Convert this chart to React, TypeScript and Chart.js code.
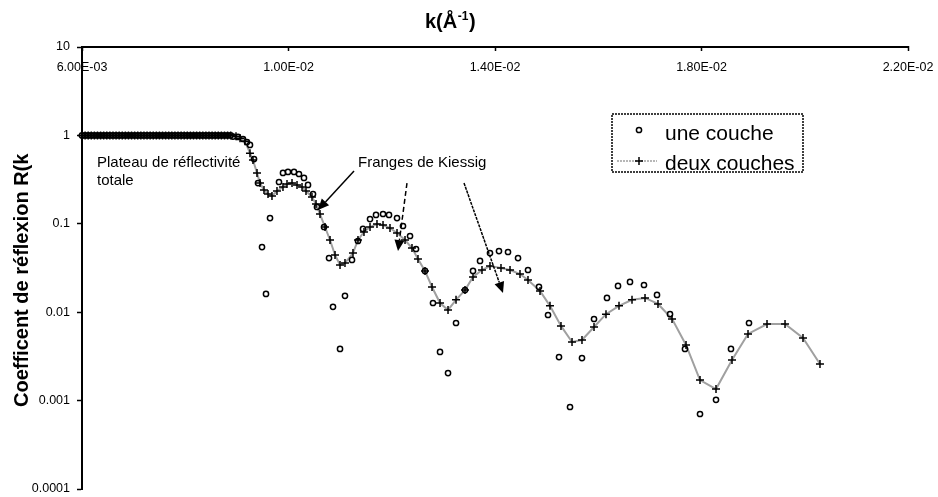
import React, { useEffect, useRef } from 'react';
import { Chart, registerables } from 'chart.js';

Chart.register(...registerables);

const FONT = "'Liberation Sans', Arial, sans-serif";

// Axis ticks
const xTickValues = [0.006, 0.01, 0.014, 0.018, 0.022];
const xTickLabels = ['6.00E-03', '1.00E-02', '1.40E-02', '1.80E-02', '2.20E-02'];
const yTickValues = [0.0001, 0.001, 0.01, 0.1, 1, 10];
const yTickLabels = ['0.0001', '0.001', '0.01', '0.1', '1', '10'];

const xTitleMain = 'k(Å';
const xTitleSup = '-1';
const xTitleEnd = ')';
const yTitle = 'Coefficent de réflexion R(k';

const seriesNames = ['une couche', 'deux couches'];

// Plateau of total reflectivity (both series at R = 1)
const plateauK = [
  0.00600, 0.00606, 0.00612, 0.00618, 0.00624, 0.00630, 0.00636, 0.00642, 0.00648, 0.00654,
  0.00660, 0.00666, 0.00672, 0.00678, 0.00684, 0.00690, 0.00696, 0.00702, 0.00708, 0.00714,
  0.00720, 0.00726, 0.00732, 0.00738, 0.00744, 0.00750, 0.00756, 0.00762, 0.00768, 0.00774,
  0.00780, 0.00786, 0.00792, 0.00798, 0.00804, 0.00810, 0.00816, 0.00822, 0.00828, 0.00834,
  0.00840, 0.00846, 0.00852, 0.00858, 0.00864, 0.00870, 0.00876, 0.00882, 0.00888,
];
const plateauR = 1;

// "une couche" (circles)
const uneK = [
  0.008925, 0.009022, 0.009119, 0.009196, 0.009254, 0.009332, 0.009409, 0.009487, 0.009564, 0.009642,
  0.009816, 0.009893, 0.009990, 0.010107, 0.010203, 0.010300, 0.010378, 0.010475, 0.010552, 0.010688,
  0.010785, 0.010862, 0.010998, 0.011094, 0.011230, 0.011346, 0.011443, 0.011579, 0.011695, 0.011831,
  0.011947, 0.012102, 0.012218, 0.012354, 0.012470, 0.012644, 0.012799, 0.012935, 0.013090, 0.013245,
  0.013419, 0.013574, 0.013710, 0.013903, 0.014077, 0.014252, 0.014446, 0.014639, 0.014852, 0.015027,
  0.015240, 0.015453, 0.015685, 0.015918, 0.016169, 0.016383, 0.016615, 0.016886, 0.017138, 0.017390,
  0.017680, 0.017971, 0.018281, 0.018571, 0.018920,
];
const uneR = [
  0.97, 0.96, 0.91, 0.84, 0.78, 0.54, 0.289, 0.0546, 0.0161, 0.116,
  0.297, 0.376, 0.386, 0.386, 0.366, 0.330, 0.275, 0.217, 0.155, 0.092,
  0.041, 0.0115, 0.00384, 0.0153, 0.039, 0.0639, 0.0874, 0.113, 0.126, 0.129,
  0.126, 0.116, 0.0944, 0.0728, 0.0519, 0.0293, 0.0127, 0.00355, 0.00205, 0.00755,
  0.0178, 0.0293, 0.038, 0.0467, 0.0492, 0.048, 0.041, 0.030, 0.0193, 0.0093,
  0.00311, 0.000847, 0.00303, 0.00838, 0.0145, 0.0198, 0.022, 0.0203, 0.0157, 0.0095,
  0.00384, 0.000705, 0.00102, 0.00384, 0.00755,
];

// "deux couches" (line + crosses)
const deuxK = [
  0.008983, 0.009061, 0.009157, 0.009254, 0.009312, 0.009390, 0.009448, 0.009525, 0.009603, 0.009680,
  0.009777, 0.009893, 0.009971, 0.010068, 0.010165, 0.010262, 0.010339, 0.010455, 0.010533, 0.010610,
  0.010707, 0.010804, 0.010901, 0.010998, 0.011094, 0.011249, 0.011346, 0.011462, 0.011579, 0.011714,
  0.011831, 0.011966, 0.012102, 0.012257, 0.012392, 0.012508, 0.012644, 0.012780, 0.012935, 0.013090,
  0.013245, 0.013419, 0.013574, 0.013748, 0.013903, 0.014116, 0.014291, 0.014484, 0.014639, 0.014872,
  0.015065, 0.015278, 0.015492, 0.015685, 0.015918, 0.016150, 0.016402, 0.016654, 0.016906, 0.017157,
  0.017429, 0.017700, 0.017971, 0.018281, 0.018591, 0.018901, 0.019269, 0.019618, 0.019966, 0.020295,
];
const deuxR = [
  0.98, 0.93, 0.86, 0.63, 0.527, 0.376, 0.289, 0.241, 0.217, 0.206,
  0.235, 0.261, 0.282, 0.289, 0.275, 0.261, 0.235, 0.201, 0.168, 0.129,
  0.092, 0.0656, 0.0444, 0.0342, 0.036, 0.0467, 0.0656, 0.0808, 0.092, 0.0995,
  0.0969, 0.0896, 0.0787, 0.0656, 0.0532, 0.040, 0.0293, 0.0193, 0.0127, 0.0106,
  0.0138, 0.0178, 0.025, 0.030, 0.0333, 0.0316, 0.030, 0.027, 0.0231, 0.0174,
  0.0118, 0.0070, 0.0046, 0.00485, 0.0068, 0.0095, 0.0118, 0.0138, 0.0145, 0.0124,
  0.0084, 0.00426, 0.00171, 0.00135, 0.00288, 0.00567, 0.00735, 0.00735, 0.00511, 0.00259,
];

// Annotations (anchored in data coordinates)
const plateauText = ['Plateau de réflectivité', 'totale'];
const plateauTextK = 0.006291;
const plateauTextR = [0.439, 0.275];
const frangesText = 'Franges de Kiessig';
const frangesTextK = 0.011346;
const frangesTextR = 0.439;
// arrows: [fromK, fromR, toK, toR, style]
const arrows: [number, number, number, number, string][] = [
  [0.011269, 0.396, 0.010571, 0.1432, 'solid'],
  [0.012295, 0.289, 0.012121, 0.0492, 'dash'],
  [0.0134, 0.289, 0.014155, 0.0165, 'dot'],
];

const plateauPoints = plateauK.map((k) => ({ x: k, y: plateauR }));
const unePoints = plateauPoints.concat(uneK.map((k, i) => ({ x: k, y: uneR[i] })));
const deuxPoints = plateauPoints.concat(deuxK.map((k, i) => ({ x: k, y: deuxR[i] })));

function drawArrow(ctx: CanvasRenderingContext2D, x1: number, y1: number, x2: number, y2: number, style: string) {
  const ang = Math.atan2(y2 - y1, x2 - x1);
  const headLen = 11;
  const headHalf = 5;
  const bx = x2 - headLen * Math.cos(ang);
  const by = y2 - headLen * Math.sin(ang);
  ctx.save();
  ctx.strokeStyle = '#000';
  ctx.fillStyle = '#000';
  ctx.lineWidth = 1.5;
  if (style === 'dash') ctx.setLineDash([5, 3]);
  else if (style === 'dot') ctx.setLineDash([3, 1]);
  ctx.beginPath();
  ctx.moveTo(x1, y1);
  ctx.lineTo(bx, by);
  ctx.stroke();
  ctx.setLineDash([]);
  ctx.beginPath();
  ctx.moveTo(x2, y2);
  ctx.lineTo(bx + headHalf * Math.sin(ang), by - headHalf * Math.cos(ang));
  ctx.lineTo(bx - headHalf * Math.sin(ang), by + headHalf * Math.cos(ang));
  ctx.closePath();
  ctx.fill();
  ctx.restore();
}

const decorPlugin = {
  id: 'decor',
  afterDraw(chart: any) {
    const ctx: CanvasRenderingContext2D = chart.ctx;
    const xs = chart.scales.x;
    const ys = chart.scales.y;
    const ca = chart.chartArea;
    ctx.save();
    ctx.fillStyle = '#000';
    ctx.textBaseline = 'alphabetic';
    ctx.textAlign = 'left';

    // X title with superscript
    ctx.font = `bold 20px ${FONT}`;
    let tx = 425;
    ctx.fillText(xTitleMain, tx, 28);
    tx += ctx.measureText(xTitleMain).width + 0.5;
    ctx.font = `bold 12px ${FONT}`;
    ctx.fillText(xTitleSup, tx, 20);
    tx += ctx.measureText(xTitleSup).width + 0.5;
    ctx.font = `bold 20px ${FONT}`;
    ctx.fillText(xTitleEnd, tx, 28);

    // Y title rotated
    ctx.save();
    ctx.translate(28, 407);
    ctx.rotate(-Math.PI / 2);
    ctx.font = `bold 20px ${FONT}`;
    ctx.fillText(yTitle, 0, 0);
    ctx.restore();

    // Annotations
    ctx.font = `15px ${FONT}`;
    plateauText.forEach((t, i) => {
      ctx.fillText(t, xs.getPixelForValue(plateauTextK), ys.getPixelForValue(plateauTextR[i]));
    });
    ctx.fillText(frangesText, xs.getPixelForValue(frangesTextK), ys.getPixelForValue(frangesTextR));
    arrows.forEach(([k1, r1, k2, r2, st]) => {
      drawArrow(ctx, xs.getPixelForValue(k1), ys.getPixelForValue(r1), xs.getPixelForValue(k2), ys.getPixelForValue(r2), st);
    });

    // Legend box
    const lx = ca.left + 530;
    const ly = ca.top + 67;
    const lw = 191;
    const lh = 58;
    ctx.save();
    ctx.strokeStyle = '#000';
    ctx.lineWidth = 1.5;
    ctx.setLineDash([2, 1]);
    ctx.strokeRect(lx, ly, lw, lh);
    ctx.restore();

    const row1 = ly + 26;
    const row2 = ly + 56;
    // circle marker
    ctx.save();
    ctx.strokeStyle = '#000';
    ctx.lineWidth = 1.5;
    ctx.beginPath();
    ctx.arc(lx + 27, row1 - 10, 2.6, 0, Math.PI * 2);
    ctx.stroke();
    // line + cross marker
    ctx.strokeStyle = '#a0a0a0';
    ctx.lineWidth = 1.5;
    ctx.setLineDash([2, 1]);
    ctx.beginPath();
    ctx.moveTo(lx + 5, row2 - 9);
    ctx.lineTo(lx + 45, row2 - 9);
    ctx.stroke();
    ctx.setLineDash([]);
    ctx.strokeStyle = '#000';
    ctx.beginPath();
    ctx.moveTo(lx + 27 - 4, row2 - 9);
    ctx.lineTo(lx + 27 + 4, row2 - 9);
    ctx.moveTo(lx + 27, row2 - 13);
    ctx.lineTo(lx + 27, row2 - 5);
    ctx.stroke();
    ctx.restore();

    ctx.font = `21px ${FONT}`;
    ctx.fillText(seriesNames[0], lx + 53, row1);
    ctx.fillText(seriesNames[1], lx + 53, row2);
    ctx.restore();
  },
};

export default function App() {
  const ref = useRef<HTMLCanvasElement>(null);
  useEffect(() => {
    const chart = new Chart(ref.current as HTMLCanvasElement, {
      type: 'line',
      data: {
        datasets: [
          {
            label: seriesNames[0],
            data: unePoints,
            showLine: false,
            pointStyle: 'circle',
            pointRadius: 2.6,
            pointBorderWidth: 1.5,
            pointBorderColor: '#000',
            pointBackgroundColor: 'rgba(0,0,0,0)',
            borderColor: '#000',
            clip: false,
          },
          {
            label: seriesNames[1],
            data: deuxPoints,
            showLine: true,
            borderColor: '#a0a0a0',
            borderWidth: 2,
            tension: 0,
            pointStyle: 'cross',
            pointRadius: 4,
            pointBorderWidth: 1.5,
            pointBorderColor: '#000',
            pointBackgroundColor: '#000',
            clip: false,
          },
        ],
      } as any,
      options: {
        animation: false,
        responsive: false,
        devicePixelRatio: 1,
        parsing: false as any,
        layout: { padding: { left: 0, top: 0, right: 30, bottom: 8 } },
        plugins: { legend: { display: false }, title: { display: false }, tooltip: { enabled: false } },
        scales: {
          x: {
            type: 'linear',
            position: 'top',
            min: 0.006,
            max: 0.022,
            afterBuildTicks: (s: any) => {
              s.ticks = xTickValues.map((v) => ({ value: v }));
            },
            afterFit: (s: any) => {
              s.height = 47;
              s.paddingLeft = 0;
              s.paddingRight = 0;
              s.paddingTop = 0;
              s.paddingBottom = 0;
            },
            ticks: {
              autoSkip: false,
              mirror: true,
              padding: 13,
              maxRotation: 0,
              minRotation: 0,
              color: '#000',
              font: { family: FONT, size: 12.5 },
              callback: (_v: any, i: number) => xTickLabels[i],
            },
            grid: { drawOnChartArea: false, drawTicks: true, tickLength: -4, color: '#000', tickColor: '#000', tickWidth: 1.5 },
            border: { display: true, color: '#000', width: 2 },
          },
          y: {
            type: 'logarithmic',
            position: 'left',
            min: 0.0001,
            max: 10,
            afterBuildTicks: (s: any) => {
              s.ticks = yTickValues.map((v) => ({ value: v }));
            },
            afterFit: (s: any) => {
              s.width = 82;
              s.paddingLeft = 0;
              s.paddingRight = 0;
              s.paddingTop = 0;
              s.paddingBottom = 0;
            },
            ticks: {
              autoSkip: false,
              padding: 7,
              color: '#000',
              font: { family: FONT, size: 12.5 },
              callback: (_v: any, i: number) => yTickLabels[i],
            },
            grid: { drawOnChartArea: false, drawTicks: true, tickLength: 5, color: '#000', tickColor: '#000', tickWidth: 1.5 },
            border: { display: true, color: '#000', width: 2 },
          },
        },
      } as any,
      plugins: [decorPlugin],
    });
    return () => chart.destroy();
  }, []);
  return (
    <div style={{ position: 'fixed', left: 0, top: 0, width: 938, height: 497, background: '#fff' }}>
      <canvas ref={ref} width={938} height={497} style={{ display: 'block', width: 938, height: 497 }} />
    </div>
  );
}
